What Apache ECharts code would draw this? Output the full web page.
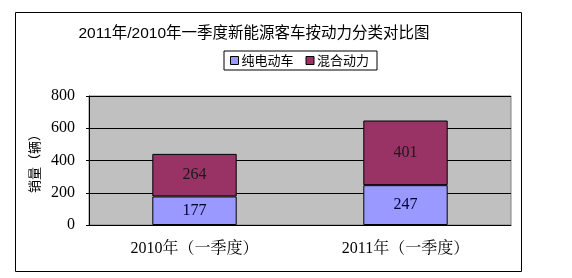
<!DOCTYPE html>
<html><head><meta charset="utf-8">
<script src="https://cdn.jsdelivr.net/npm/echarts@6/dist/echarts.min.js"></script>
<style>html,body{margin:0;padding:0;background:#fff}#c{width:572px;height:278px}</style>
</head><body><div id="c"></div>
<script>
var categories = ['2010年（一季度）', '2011年（一季度）'];
var pureElectric = [177, 247];
var hybrid = [264, 401];
var seriesNames = ['纯电动车', '混合动力'];
var yTicks = [0, 200, 400, 600, 800];

var chart = echarts.init(document.getElementById('c'));
var serif = "'Liberation Serif', 'Noto Serif CJK SC', 'Noto Sans CJK SC', serif";
var sans = "'Liberation Sans', 'Noto Sans CJK SC', sans-serif";
chart.setOption({
  animation: false,
  backgroundColor: '#fff',
  title: {
    text: '2011年/2010年一季度新能源客车按动力分类对比图',
    left: 249, top: 21, textAlign: 'center',
    textStyle: { fontFamily: sans, fontSize: 15.5, fontWeight: 'normal', color: '#000' }
  },
  legend: {
    data: seriesNames,
    left: 224, top: 51, width: 152, height: 20,
    padding: [3, 8, 3, 6],
    borderColor: '#000', borderWidth: 1,
    itemWidth: 8, itemHeight: 8, itemGap: 12,
    icon: 'rect',
    textStyle: { fontFamily: "'Noto Sans CJK SC', sans-serif", fontSize: 13, color: '#000', padding: [0, 0, 0, -2] },
    itemStyle: { borderColor: '#000', borderWidth: 1 }
  },
  graphic: [{
    type: 'rect', shape: { x: 15.5, y: 12.5, width: 506, height: 259 },
    style: { fill: 'none', stroke: '#000', lineWidth: 1 }, z: -1
  }],
  grid: {
    left: 89, right: 61, top: 96, bottom: 53,
    show: true, backgroundColor: '#c0c0c0', borderColor: '#808080', borderWidth: 1
  },
  xAxis: {
    type: 'category', data: categories,
    axisLine: { lineStyle: { color: '#000', width: 1 } },
    axisTick: { show: false },
    axisLabel: { fontFamily: serif, fontSize: 16, color: '#000', margin: 16 }
  },
  yAxis: {
    type: 'value', min: yTicks[0], max: yTicks[yTicks.length - 1], interval: 200,
    name: '销量（辆）', nameLocation: 'middle', nameGap: 41, nameRotate: 90,
    nameTextStyle: { fontFamily: "'Noto Sans CJK SC', sans-serif", fontSize: 13, color: '#000' },
    axisLine: { show: true, lineStyle: { color: '#000', width: 1 } },
    axisTick: { show: true, length: 3, lineStyle: { color: '#000' } },
    splitLine: { lineStyle: { color: '#000', width: 1 } },
    axisLabel: { fontFamily: serif, fontSize: 16, color: '#000', margin: 14 }
  },
  series: [{
    name: seriesNames[0], type: 'bar', stack: 's', data: pureElectric, barWidth: '40%',
    itemStyle: { color: '#9999ff', borderColor: '#000', borderWidth: 1 },
    label: { show: true, position: 'inside', fontFamily: serif, fontSize: 16, color: '#000033' }
  }, {
    name: seriesNames[1], type: 'bar', stack: 's', data: hybrid, barWidth: '40%',
    itemStyle: { color: '#993366', borderColor: '#000', borderWidth: 1 },
    label: { show: true, position: 'inside', fontFamily: serif, fontSize: 16, color: '#1a1a1a' }
  }]
});
</script></body></html>
